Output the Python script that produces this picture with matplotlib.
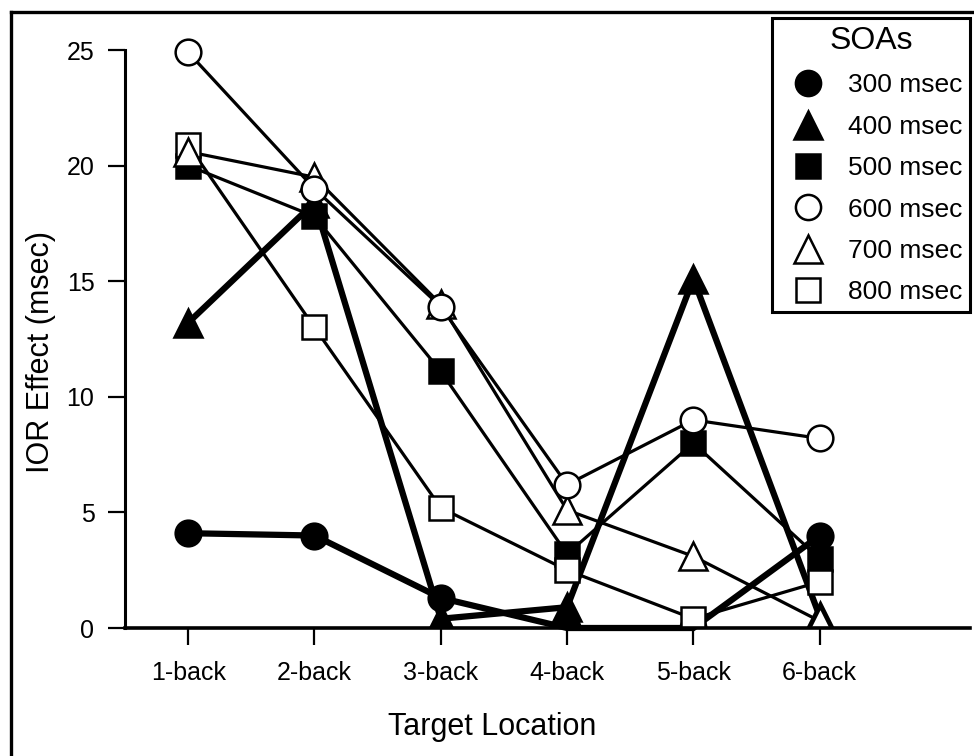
import matplotlib
matplotlib.use("Agg")
import matplotlib.pyplot as plt
from matplotlib.lines import Line2D
from matplotlib.patches import Rectangle

plt.rcParams['font.family'] = ['Liberation Sans', 'DejaVu Sans']

# ---- data ----
categories = ['1-back', '2-back', '3-back', '4-back', '5-back', '6-back']
soa_labels = ['300 msec', '400 msec', '500 msec', '600 msec', '700 msec', '800 msec']
soa_300 = [4.1, 4.0, 1.3, 0.0, 0.0, 4.0]
soa_400 = [13.2, 18.4, 0.4, 0.9, 15.1, 0.5]
soa_500 = [20.0, 17.8, 11.1, 3.2, 8.0, 3.0]
soa_600 = [24.9, 19.0, 13.9, 6.2, 9.0, 8.2]
soa_700 = [20.6, 19.5, 14.0, 5.1, 3.1, 0.3]
soa_800 = [20.9, 13.0, 5.2, 2.5, 0.4, 2.0]
y_ticks = [0, 5, 10, 15, 20, 25]

series = [soa_300, soa_400, soa_500, soa_600, soa_700, soa_800]
markers = ['o', '^', 's', 'o', '^', 's']
faces = ['black', 'black', 'black', 'white', 'white', 'white']
lws = [4.5, 4.5, 2.3, 2.3, 2.3, 2.3]
msizes = {'o': 18.5, '^': 20, 's': 17}

W, H = 974, 756
fig = plt.figure(figsize=(W / 100, H / 100), dpi=100)
ax = fig.add_axes([125 / W, 1 - 628 / H, (970 - 125) / W, (628 - 50) / H])

x = list(range(1, len(categories) + 1))

# lines first
for vals, lw in zip(series, lws):
    ax.plot(x, vals, color='black', lw=lw, solid_joinstyle='miter',
            zorder=2, clip_on=False)

# markers on top, clipped at the x axis only (as in the original)
clip_rect = Rectangle((-0.1, 0.0), 1.2, 1.2, transform=ax.transAxes,
                      facecolor='none', edgecolor='none')
draw_order = [0, 1, 2, 5, 4, 3]
for k, i in enumerate(draw_order):
    ln, = ax.plot(x, series[i], linestyle='none', marker=markers[i],
                  markersize=msizes[markers[i]], markerfacecolor=faces[i],
                  markeredgecolor='black', markeredgewidth=1.8,
                  zorder=3 + k * 0.1)
    ln.set_clip_path(clip_rect)

ax.set_xlim(0.5, 7.19)
ax.set_ylim(0, 25)
ax.set_xticks(x)
ax.set_xticklabels(categories, fontsize=18)
ax.set_yticks(y_ticks)
ax.set_yticklabels([str(t) for t in y_ticks], fontsize=18)

for s in ['top', 'right']:
    ax.spines[s].set_visible(False)
ax.spines['left'].set_linewidth(2.2)
ax.spines['bottom'].set_linewidth(2.6)
ax.spines['bottom'].set_zorder(4)
ax.tick_params(axis='both', direction='out', length=12, width=1.6, color='black')
ax.tick_params(axis='y', pad=10)
ax.tick_params(axis='x', pad=12)

ax.set_xlabel('Target Location', fontsize=22)
ax.xaxis.set_label_coords((492 - 125) / 845, (628 - 727) / 578)
ax.xaxis.label.set_verticalalignment('center')
ax.set_ylabel('IOR Effect (msec)', fontsize=22)
ax.yaxis.set_label_coords((41 - 125) / 845, (628 - 352) / 578)
ax.yaxis.label.set_verticalalignment('center')

# legend
handles = [Line2D([], [], linestyle='none', marker=m, markersize=msizes[m] * 0.98,
                  markerfacecolor=f, markeredgecolor='black', markeredgewidth=1.8)
           for m, f in zip(markers, faces)]
leg = ax.legend(handles, soa_labels, title='SOAs', loc='upper right',
                bbox_to_anchor=(970 / W, 1 - 18 / H), bbox_transform=fig.transFigure,
                borderaxespad=0, fontsize=19, title_fontsize=23, frameon=True,
                fancybox=False, edgecolor='black', framealpha=1,
                handlelength=2.1, handletextpad=0.45, labelspacing=0.66,
                borderpad=0.3)
leg.get_frame().set_linewidth(2.2)
leg.set_zorder(10)

# outer frame (top and left)
fig.add_artist(Line2D([11 / W, 1.0], [1 - 12 / H, 1 - 12 / H],
                      transform=fig.transFigure, color='black', lw=2.4))
fig.add_artist(Line2D([11 / W, 11 / W], [1 - 12 / H, 0.0],
                      transform=fig.transFigure, color='black', lw=2.4))

fig.savefig('out.png', dpi=100)
